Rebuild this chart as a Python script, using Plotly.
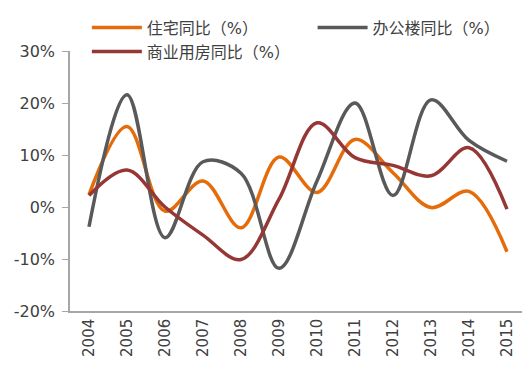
import plotly.graph_objects as go

years = ["2004", "2005", "2006", "2007", "2008", "2009", "2010", "2011", "2012", "2013", "2014", "2015"]
residential = [2.4, 15.5, -0.8, 5.0, -4.0, 9.6, 2.8, 13.0, 6.6, -0.1, 3.0, -8.6]
office = [-3.8, 21.6, -5.9, 8.7, 6.5, -11.8, 5.0, 20.0, 2.2, 20.6, 12.8, 8.8]
commercial = [2.2, 7.1, 0.0, -5.4, -10.1, 1.5, 16.2, 9.5, 8.0, 6.0, 11.4, -0.4]

names = ["住宅同比（%）", "办公楼同比（%）", "商业用房同比（%）"]
colors = ["#E46C0A", "#595959", "#953735"]
legends = ["legend", "legend2", "legend"]
series = [residential, office, commercial]

fig = go.Figure()
for n, c, s, lg in zip(names, colors, series, legends):
    fig.add_trace(go.Scatter(
        x=years, y=s, name=n, mode="lines", legend=lg,
        line=dict(color=c, width=3.5, shape="spline", smoothing=1.0),
    ))

font_family = "DejaVu Sans, Noto Sans CJK SC, sans-serif"
legend_common = dict(
    orientation="v", xanchor="left", yanchor="top",
    font=dict(size=16, color="#404040"),
    itemwidth=50, tracegroupgap=0, bgcolor="rgba(0,0,0,0)",
    traceorder="normal",
)
# page body adds an 8px offset, so the figure is 8px smaller than the window
fig.update_layout(
    width=522, height=365,
    margin=dict(l=62, r=4, t=43, b=62, autoexpand=False),
    paper_bgcolor="white", plot_bgcolor="white",
    font=dict(family=font_family, size=15, color="#404040"),
    showlegend=True,
    legend=dict(x=0.037, y=1.155, **legend_common),
    legend2=dict(x=0.532, y=1.155, **legend_common),
    xaxis=dict(
        type="category", range=[-0.5, 11.5], showgrid=False, zeroline=False,
        showline=True, linecolor="#A6A6A6", linewidth=1.5,
        tickangle=-90, ticks="", tickfont=dict(size=15, color="#404040"),
    ),
    yaxis=dict(
        range=[-20, 30], tickvals=[-20, -10, 0, 10, 20, 30],
        ticktext=["-20%", "-10%", "0%", "10%", "20%", "30%"],
        showgrid=False, zeroline=False,
        showline=True, linecolor="#A6A6A6", linewidth=1.5,
        ticks="outside", ticklen=6, tickcolor="#A6A6A6",
        ticklabelstandoff=4,
        tickfont=dict(size=16, color="#404040"),
    ),
)

fig.write_html("out.html")
